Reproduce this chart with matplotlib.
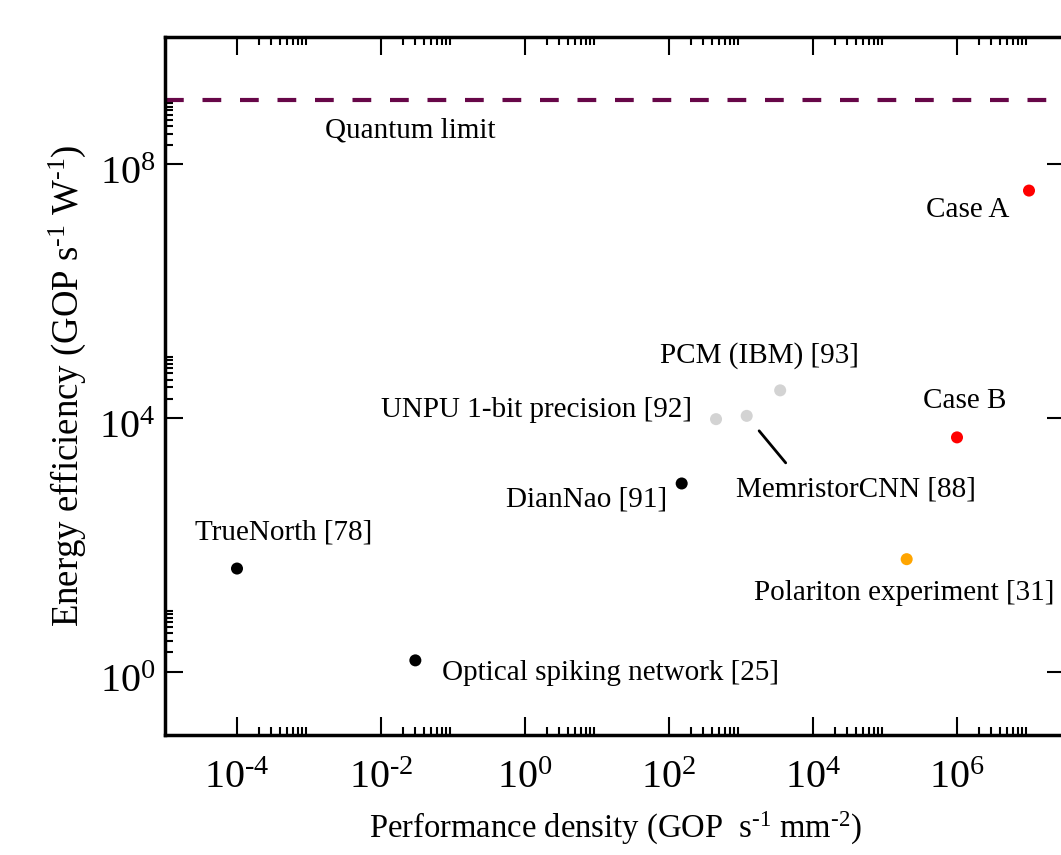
import numpy as np
import matplotlib
matplotlib.use("Agg")
import matplotlib.pyplot as plt
import matplotlib.transforms as mtransforms
from matplotlib.ticker import FixedLocator, FuncFormatter, NullFormatter

plt.rcParams['font.family'] = 'Liberation Serif'
plt.rcParams['mathtext.fontset'] = 'custom'
plt.rcParams['mathtext.rm'] = 'Liberation Serif'
plt.rcParams['mathtext.it'] = 'Liberation Serif:italic'

# datos
names = ["TrueNorth [78]", "Optical spiking network [25]", "DianNao [91]",
         "UNPU 1-bit precision [92]", "MemristorCNN [88]", "PCM (IBM) [93]",
         "Case A", "Case B", "Polariton experiment [31]"]
perf_density = [1e-4, 3.0e-2, 1.5e2, 4.5e2, 1.2e3, 3.5e3, 1.0e7, 1.0e6, 2.0e5]
energy_eff = [42, 1.5, 9.2e2, 9.5e3, 1.07e4, 2.7e4, 3.8e7, 4.9e3, 59]
colors = ['black', 'black', 'black', '#d3d3d3', '#d3d3d3', '#d3d3d3',
          'red', 'red', 'orange']
quantum_limit = 1e9

# posicion de cada etiqueta (offset en pixeles, alineacion)
label_pos = [((47, 36), 'center'), ((27, -13), 'left'), ((-15, -16), 'right'),
             ((-24, 9), 'right'), ((-11, -74), 'left'), ((-21, 35), 'center'),
             ((-20, -19), 'right'), ((8, 36), 'center'), ((-2, -34), 'center')]

HY = '\u2010'  # guion corto como en el original


def log_fmt(v, pos):
    e = int(round(np.log10(v)))
    s = str(e).replace('-', HY)
    return '$10^{' + s + '}$'


fig = plt.figure(figsize=(10.61, 8.55), dpi=100)
ax = fig.add_axes([165/1061., 1 - 735/855., 900/1061., 698/855.])
ax.set_xscale('log')
ax.set_yscale('log')
ax.set_xlim(1e-5, 10**7.5)
ax.set_ylim(1e-1, 1e10)

ax.axhline(quantum_limit, color='#670748', lw=3, ls=(0, (4.5, 4.5)))
ax.annotate("Quantum limit", xy=(10**-1.6, quantum_limit), xytext=(0, -30),
            textcoords='offset pixels', ha='center', va='center', fontsize=21)

for i in range(len(names)):
    ax.scatter(perf_density[i], energy_eff[i], s=75, c=colors[i], zorder=3,
               edgecolors='none')
    off, ha = label_pos[i]
    ax.annotate(names[i], xy=(perf_density[i], energy_eff[i]), xytext=off,
                textcoords='offset pixels', ha=ha, va='center', fontsize=21)

# linea de MemristorCNN
ax.annotate('', xy=(perf_density[4], energy_eff[4]), xytext=(39, -47),
            textcoords='offset pixels',
            arrowprops=dict(arrowstyle='-', color='black', lw=2,
                            shrinkA=0, shrinkB=14))

# ticks estilo xmgrace
xmaj = [10.0**k for k in range(-4, 8, 2)]
ymaj = [10.0**k for k in range(0, 12, 4)]
ax.xaxis.set_major_locator(FixedLocator(xmaj))
ax.yaxis.set_major_locator(FixedLocator(ymaj))
ax.xaxis.set_minor_locator(FixedLocator([m*j for m in xmaj for j in range(2, 10)]))
ax.yaxis.set_minor_locator(FixedLocator([m*j for m in ymaj for j in range(2, 10)]))
ax.xaxis.set_major_formatter(FuncFormatter(log_fmt))
ax.yaxis.set_major_formatter(FuncFormatter(log_fmt))
ax.xaxis.set_minor_formatter(NullFormatter())
ax.yaxis.set_minor_formatter(NullFormatter())
ax.tick_params(which='both', direction='in', top=True, right=True, width=1.5)
ax.tick_params(which='major', length=13, labelsize=29)
ax.tick_params(which='minor', length=6)
ax.tick_params(axis='x', which='major', pad=18)
ax.tick_params(axis='y', which='major', pad=7)
ax.tick_params(axis='y', which='minor', right=False)
for s in ax.spines.values():
    s.set_linewidth(2.5)

# baja un poco las etiquetas del eje y
shift = mtransforms.ScaledTranslation(0, -6/100., fig.dpi_scale_trans)
for lab in ax.get_yticklabels():
    lab.set_transform(lab.get_transform() + shift)

ax.set_xlabel("Performance density (GOP  s$^{" + HY + "1}$ mm$^{" + HY + "2}$)",
              fontsize=23.5, labelpad=9)
ax.set_ylabel("Energy efficiency (GOP s$^{" + HY + "1}$ W$^{" + HY + "1}$)",
              fontsize=26.5, labelpad=8)

plt.savefig("out.png", dpi=100)
plt.close()
